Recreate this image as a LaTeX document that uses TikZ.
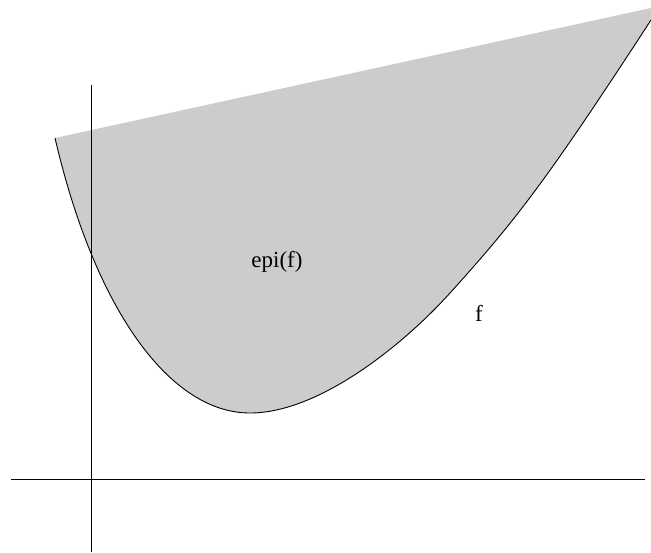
\documentclass[tikz,border=0pt]{standalone}
\usepackage{fontspec}
\setmainfont{Liberation Serif}
\usepackage{tikz}
\usetikzlibrary{positioning}

\begin{document}
\begin{tikzpicture}[
    x=1pt, y=-1pt,
    axis/.style={draw, line width=1pt},
    curve/.style={draw, line width=0.9pt},
    region/.style={fill=black!20},
    lbl/.style={font=\fontsize{23}{26}\selectfont, inner sep=0pt}
]
\useasboundingbox (0,0) rectangle (651,552);

% Epigraph
\fill[region] (55,138) .. controls (95,310) and (170,413) .. (250,413)
    .. controls (320,413) and (405,343) .. (450,293)
    .. controls (515,221) and (545,183) .. (651,20) -- (651,8) -- cycle;

% Axes
\draw[axis] (11,479) -- (645,479);
\draw[axis] (91.5,85) -- (91.5,552);

% Graph of f
\draw[curve] (55,138) .. controls (95,310) and (170,413) .. (250,413)
    .. controls (320,413) and (405,343) .. (450,293)
    .. controls (515,221) and (545,183) .. (651,20);

% Labels
\node[lbl] (epi) at (277,262) {epi(f)};
\node[lbl] (fname) at (479,313) {f};

\end{tikzpicture}
\end{document}
